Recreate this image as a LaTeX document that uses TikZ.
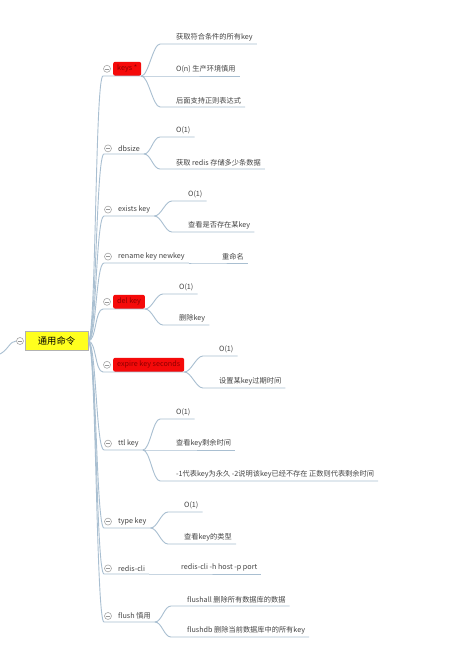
\documentclass[tikz,border=0pt]{standalone}
\usepackage{fontspec}
\setmainfont{Noto Sans CJK SC}
\definecolor{linec}{HTML}{A9BFD1}
\definecolor{txtc}{HTML}{444444}
\definecolor{redbox}{HTML}{F50A0A}
\definecolor{redtxt}{HTML}{8E0000}
\definecolor{rootfill}{HTML}{FFFF1E}
\tikzset{
  link/.style={draw=linec, line width=0.9pt},
  item/.style={anchor=south west, inner xsep=4pt, inner ysep=2.5pt, text=txtc, font=\fontsize{7.2}{8.5}\selectfont},
  hot/.style={item, fill=redbox, text=redtxt, rounded corners=2pt, minimum height=14pt, inner ysep=1pt},
  fold/.style={circle, draw=gray!70, fill=white, line width=0.6pt, minimum size=7pt, inner sep=0pt,
    path picture={\draw[gray!80, line width=0.6pt] ([xshift=-2.2pt]path picture bounding box.center) -- ([xshift=2.2pt]path picture bounding box.center);}}
}
\begin{document}
\begin{tikzpicture}[x=1pt, y=-1pt]
	\useasboundingbox[fill=white] (0,0) rectangle (460,659);
	% root
	\coordinate (parent) at (0,354);
	\node[fold] (f0) at (20,341) {};
	\node[fill=rootfill, draw=gray!60, line width=0.5pt, minimum width=63pt, minimum height=19pt, inner sep=0pt, font=\fontsize{9.3}{11}\selectfont] (root) at (56.5,341) {通用命令};
	\draw[link] (parent) .. controls (8,350) and (10,341) .. (f0.west);
	% children
	\node[hot]  (c1) at (113,76) {keys *};
	\node[item] (c2) at (114,154) {dbsize};
	\node[item] (c3) at (114,216) {exists key};
	\node[item] (c4) at (114,263) {rename key newkey};
	\node[hot]  (c5) at (113,309) {del key};
	\node[hot]  (c6) at (113,372) {expire key seconds};
	\node[item] (c7) at (114,450) {ttl key};
	\node[item] (c8) at (114,528) {type key};
	\node[item] (c9) at (114,574) {redis-cli};
	\node[item] (c10) at (114,622) {flush 慎用};
	\foreach \c in {c1,c2,c3,c4,c5,c6,c7,c8,c9,c10}{
		\draw[link] (root.east) .. controls +(8,0) and +(-8,0) .. ([xshift=-10pt]\c.south west) -- (\c.south east);
		\node[fold] (f\c) at ([xshift=-6pt]\c.west) {};
	}
	% leaves
	\node[item] (k11) at (172,44) {获取符合条件的所有key};
	\node[item] (k12) at (172,76) {O(n) 生产环境慎用};
	\node[item] (k13) at (172,107) {后面支持正则表达式};
	\node[item] (d21) at (172,137) {O(1)};
	\node[item] (d22) at (172,169) {获取 redis 存储多少条数据};
	\node[item] (e31) at (184,201) {O(1)};
	\node[item] (e32) at (184,232) {查看是否存在某key};
	\node[item] (r41) at (218,263) {重命名};
	\node[item] (x51) at (175,294) {O(1)};
	\node[item] (x52) at (175,325) {删除key};
	\node[item] (p61) at (215,356) {O(1)};
	\node[item] (p62) at (215,388) {设置某key过期时间};
	\node[item] (t71) at (172,419) {O(1)};
	\node[item] (t72) at (172,450) {查看key剩余时间};
	\node[item] (t73) at (172,481) {-1代表key为永久 -2说明该key已经不存在 正数则代表剩余时间};
	\node[item] (y81) at (180,512) {O(1)};
	\node[item] (y82) at (180,544) {查看key的类型};
	\node[item] (s91) at (177,574) {redis-cli -h host -p port};
	\node[item] (h101) at (183,606) {flushall 删除所有数据库的数据};
	\node[item] (h102) at (183,637) {flushdb 删除当前数据库中的所有key};
	\foreach \p/\l in {c1/k11,c1/k12,c1/k13,c2/d21,c2/d22,c3/e31,c3/e32,c4/r41,c5/x51,c5/x52,c6/p61,c6/p62,c7/t71,c7/t72,c7/t73,c8/y81,c8/y82,c9/s91,c10/h101,c10/h102}
		\draw[link] (\p.south east) .. controls +(7,0) and +(-7,0) .. ([xshift=-12pt]\l.south west) -- (\l.south east);
\end{tikzpicture}
\end{document}
